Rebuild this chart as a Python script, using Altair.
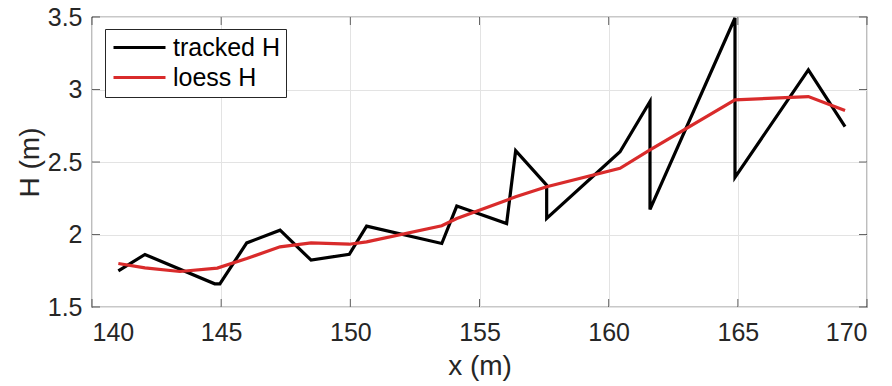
import altair as alt
import pandas as pd

# tracked H (black)
tracked_x = [141.02, 142.05, 144.75, 144.95, 145.99, 147.28, 148.48, 149.96, 150.63,
             153.54, 154.12, 156.05, 156.40, 157.60, 157.60, 160.44, 161.60, 161.60,
             164.89, 164.89, 167.73, 169.15]
tracked_h = [1.749, 1.862, 1.660, 1.660, 1.942, 2.030, 1.823, 1.864, 2.058,
             1.938, 2.196, 2.076, 2.578, 2.341, 2.111, 2.571, 2.917, 2.173,
             3.493, 2.394, 3.136, 2.744]

# loess H (red)
loess_x = [141.02, 142.05, 143.40, 144.85, 145.99, 147.28, 148.48, 149.96, 150.63,
           153.54, 154.12, 156.05, 156.40, 157.60, 160.44, 161.60, 164.89, 167.73, 169.15]
loess_h = [1.800, 1.770, 1.745, 1.768, 1.834, 1.915, 1.942, 1.933, 1.949,
           2.060, 2.110, 2.237, 2.260, 2.329, 2.456, 2.583, 2.929, 2.951, 2.855]

x_ticks = [140, 145, 150, 155, 160, 165, 170]
y_ticks = [1.5, 2, 2.5, 3, 3.5]

series_names = ["tracked H", "loess H"]
series_colors = ["#000000", "#d92b2b"]

rows = []
for i, (x, h) in enumerate(zip(tracked_x, tracked_h)):
    rows.append({"series": "tracked H", "x": x, "H": h, "i": i})
for i, (x, h) in enumerate(zip(loess_x, loess_h)):
    rows.append({"series": "loess H", "x": x, "H": h, "i": i})
df = pd.DataFrame(rows)

FONT = "Liberation Sans"
W, H = 775, 290

xs = alt.Scale(domain=[140, 170], nice=False, zero=False)
ys = alt.Scale(domain=[1.5, 3.5], nice=False, zero=False)

lines = alt.Chart(df).mark_line(strokeWidth=3.2, strokeJoin="miter", clip=True).encode(
    x=alt.X("x:Q", scale=xs,
            axis=alt.Axis(values=x_ticks, title="x (m)", grid=True, domain=False, ticks=False,
                          labelPadding=13, titlePadding=7, format="d")),
    y=alt.Y("H:Q", scale=ys,
            axis=alt.Axis(values=y_ticks, title="H (m)", grid=True, domain=False, ticks=False,
                          labelPadding=10, titlePadding=3, format="~g")),
    color=alt.Color("series:N", scale=alt.Scale(domain=series_names, range=series_colors),
                    legend=alt.Legend(title=None, orient="none", legendX=13, legendY=12,
                                      symbolType="M-1,0H4.2", symbolSize=400, symbolStrokeWidth=3.2,
                                      labelFontSize=25, labelFont=FONT, labelColor="#000000",
                                      strokeColor="#262626", fillColor="#ffffff", padding=6,
                                      rowPadding=4, labelOffset=37, labelLimit=300)),
    order=alt.Order("i:Q"),
)

xt = pd.DataFrame({"t": x_ticks})
yt = pd.DataFrame({"t": y_ticks})
tick_col = "#262626"
xb = alt.Chart(xt).mark_tick(color=tick_col, size=8, thickness=1, orient="vertical").encode(
    x=alt.X("t:Q", scale=xs), y=alt.value(H - 4))
xtp = alt.Chart(xt).mark_tick(color=tick_col, size=8, thickness=1, orient="vertical").encode(
    x=alt.X("t:Q", scale=xs), y=alt.value(4))
yl = alt.Chart(yt).mark_tick(color=tick_col, size=8, thickness=1, orient="horizontal").encode(
    y=alt.Y("t:Q", scale=ys), x=alt.value(4))
yr = alt.Chart(yt).mark_tick(color=tick_col, size=8, thickness=1, orient="horizontal").encode(
    y=alt.Y("t:Q", scale=ys), x=alt.value(W - 4))

chart = alt.layer(lines, xb, xtp, yl, yr).properties(
    width=W, height=H,
    autosize=alt.AutoSizeParams(type="none"),
    padding={"left": 92, "top": 17, "right": 25, "bottom": 79},
    background="white",
).configure_view(
    stroke="#262626", strokeWidth=1.2
).configure_axis(
    labelFont=FONT, titleFont=FONT, labelFontSize=25, titleFontSize=28,
    labelColor="#262626", titleColor="#262626", titleFontWeight="normal",
    gridColor="#e3e3e3", gridWidth=1,
)

chart.save("out.html", embed_options={"renderer": "svg", "actions": False})
